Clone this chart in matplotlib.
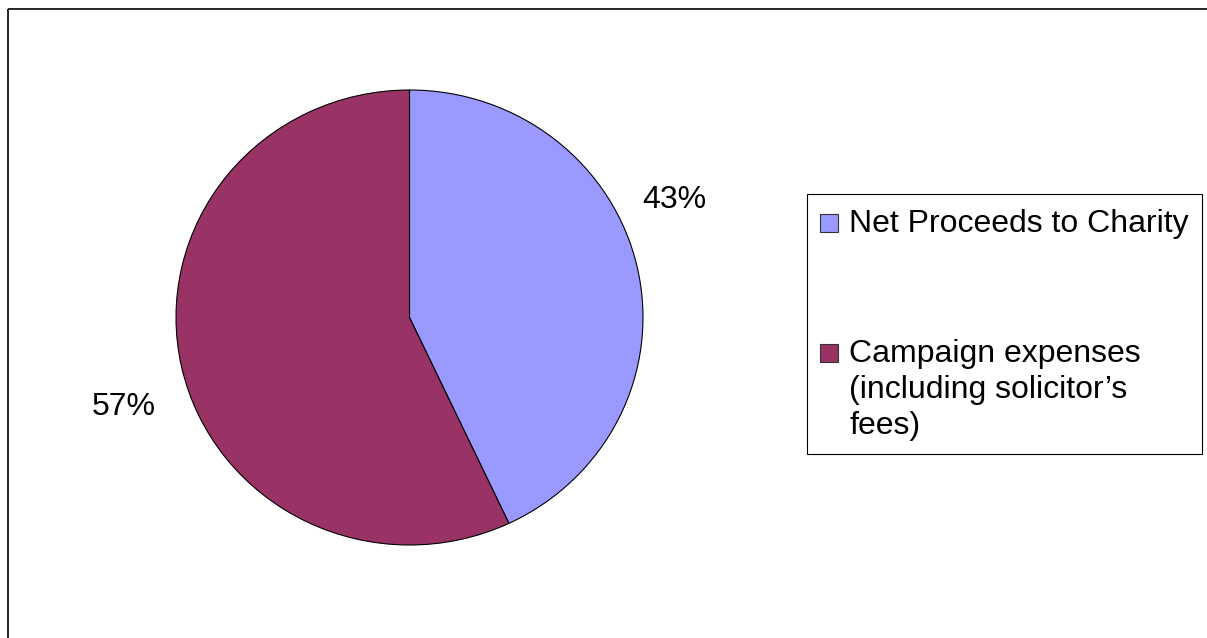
import matplotlib
matplotlib.use('Agg')
import matplotlib.pyplot as plt
from matplotlib.patches import Rectangle

# Share of donations: charity vs. campaign costs
categories = ['Net Proceeds to Charity',
              'Campaign expenses\n(including solicitor\u2019s\nfees)']
shares = [43, 57]
slice_colors = ['#9999FF', '#993366']

W, H = 1207, 638
FONT_SIZE = 23
LINE_STEP = 35.8  # px between legend text lines

plt.rcParams['font.family'] = ['Liberation Sans', 'DejaVu Sans']

fig = plt.figure(figsize=(W / 100, H / 100), dpi=100)

# overlay axes in pixel units (y downwards) for the frame and the legend
canvas = fig.add_axes([0, 0, 1, 1])
canvas.set_xlim(0, W)
canvas.set_ylim(H, 0)
canvas.axis('off')
canvas.add_patch(Rectangle((8, 9), W + 20, H, fill=False, ec='black', lw=1.2))

# pie axes placed on the pixel box of the ellipse
left, top, right, bottom = 176, 90, 643, 545
ax = fig.add_axes([left / W, 1 - bottom / H, (right - left) / W, (bottom - top) / H])
wedges, _, pct_texts = ax.pie(shares, colors=slice_colors, startangle=90, counterclock=False,
                              autopct='%1.0f%%',
                              wedgeprops=dict(edgecolor='black', linewidth=0.8),
                              textprops=dict(fontsize=FONT_SIZE))
ax.set_aspect('auto')
ax.set_xlim(-1, 1)
ax.set_ylim(-1, 1)
for w in wedges:
    w.set_clip_on(False)

label_pos = [(1.135, 0.481), (-1.223, -0.429)]
for t, (x, y) in zip(pct_texts, label_pos):
    t.set_position((x, y))
    t.set_va('baseline')
    t.set_ha('center')

# legend drawn by hand so the swatch sits on the first text line
canvas.add_patch(Rectangle((807, 194), 395, 260, fill=False, ec='black', lw=0.8))
entry_baselines = [232, 362]
for label, color, yb in zip(categories, slice_colors, entry_baselines):
    canvas.add_patch(Rectangle((820, yb - 18), 18, 18, fc=color, ec='#333333', lw=0.8))
    for i, line in enumerate(label.split('\n')):
        canvas.text(849, yb + i * LINE_STEP, line, fontsize=FONT_SIZE, ha='left', va='baseline')

fig.savefig('out.png', dpi=100)
